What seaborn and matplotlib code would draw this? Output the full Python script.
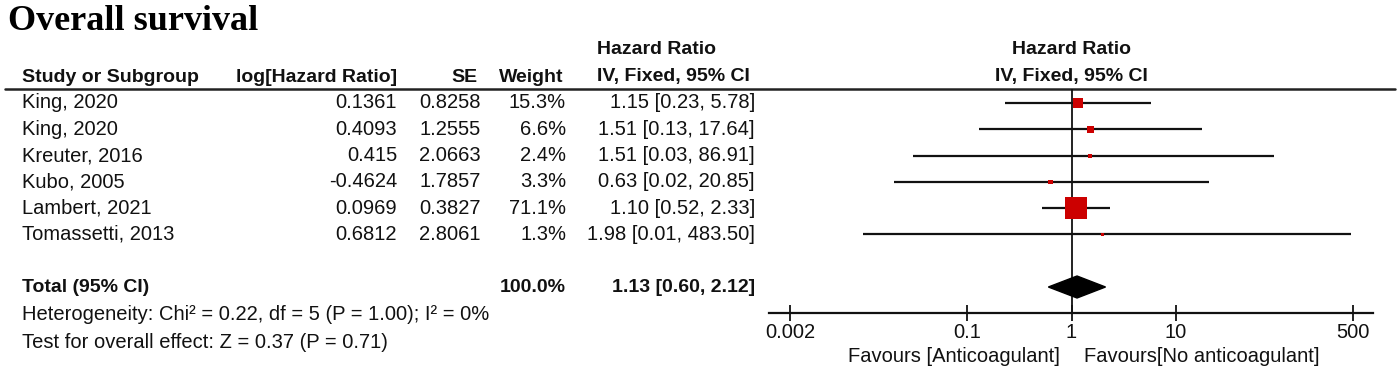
import numpy as np
import pandas as pd
import seaborn as sns
import matplotlib
matplotlib.use("Agg")
from matplotlib import pyplot as plt

# data
studies = ["King, 2020", "King, 2020", "Kreuter, 2016", "Kubo, 2005", "Lambert, 2021", "Tomassetti, 2013"]
log_hr = ["0.1361", "0.4093", "0.415", "-0.4624", "0.0969", "0.6812"]
se = ["0.8258", "1.2555", "2.0663", "1.7857", "0.3827", "2.8061"]
weight = [15.3, 6.6, 2.4, 3.3, 71.1, 1.3]
hr = [1.15, 1.51, 1.51, 0.63, 1.10, 1.98]
ci_lo = [0.23, 0.13, 0.03, 0.02, 0.52, 0.01]
ci_hi = [5.78, 17.64, 86.91, 20.85, 2.33, 483.50]
total_hr, total_lo, total_hi = 1.13, 0.60, 2.12
total_weight = 100.0
heterogeneity = "Heterogeneity: Chi² = 0.22, df = 5 (P = 1.00); I² = 0%"
overall = "Test for overall effect: Z = 0.37 (P = 0.71)"
ticks = [0.002, 0.1, 1, 10, 500]
tick_labels = ["0.002", "0.1", "1", "10", "500"]

df = pd.DataFrame({"study": studies, "weight": weight, "hr": hr, "lo": ci_lo, "hi": ci_hi})

sns.set_theme(style="white")
plt.rcParams["font.family"] = ["Liberation Sans", "DejaVu Sans"]

W, H = 1399, 371
fig = plt.figure(figsize=(W / 100, H / 100), dpi=100)

# background axes in pixel units for the table part
bg = fig.add_axes([0, 0, 1, 1])
bg.set_xlim(0, W)
bg.set_ylim(H, 0)
bg.axis("off")

row0, dy = 103, 26.3
df["y"] = row0 + dy * np.arange(len(df))
y_total = 287
fs = 14.5   # regular text
fb = 14.0   # bold text
ink = "#111111"

bg.text(8, 21, "Overall survival", family="Liberation Serif", weight="bold",
        fontsize=26, va="center", ha="left", color="black")

# header
bg.text(597, 50, "Hazard Ratio", ha="left", va="center", fontsize=fb, weight="bold", color=ink)
bg.text(1071, 50, "Hazard Ratio", ha="center", va="center", fontsize=fb, weight="bold", color=ink)
hy = 77
bg.text(22, hy, "Study or Subgroup", ha="left", va="center", fontsize=fb, weight="bold", color=ink)
bg.text(397, hy, "log[Hazard Ratio]", ha="right", va="center", fontsize=fb, weight="bold", color=ink)
bg.text(478, hy, "SE", ha="right", va="center", fontsize=fb, weight="bold", color=ink)
bg.text(563, hy, "Weight", ha="right", va="center", fontsize=fb, weight="bold", color=ink)
bg.text(597, hy, "IV, Fixed, 95% CI", ha="left", va="center", fontsize=fb, weight="bold", color=ink)
bg.text(1071, hy, "IV, Fixed, 95% CI", ha="center", va="center", fontsize=fb, weight="bold", color=ink)
bg.plot([5, 1395], [89, 89], color="#222222", lw=1.8)

for i, r in df.iterrows():
    bg.text(22, r.y, r.study, ha="left", va="center", fontsize=fs, color=ink)
    bg.text(397, r.y, log_hr[i], ha="right", va="center", fontsize=fs, color=ink)
    bg.text(481, r.y, se[i], ha="right", va="center", fontsize=fs, color=ink)
    bg.text(566, r.y, f"{r.weight:.1f}%", ha="right", va="center", fontsize=fs, color=ink)
    bg.text(755, r.y, f"{r.hr:.2f} [{r.lo:.2f}, {r.hi:.2f}]", ha="right", va="center", fontsize=fs, color=ink)

bg.text(22, y_total, "Total (95% CI)", ha="left", va="center", fontsize=fb, weight="bold", color=ink)
bg.text(566, y_total, f"{total_weight:.1f}%", ha="right", va="center", fontsize=fb, weight="bold", color=ink)
bg.text(755, y_total, f"{total_hr:.2f} [{total_lo:.2f}, {total_hi:.2f}]", ha="right", va="center",
        fontsize=fb, weight="bold", color=ink)
bg.text(22, 315, heterogeneity, ha="left", va="center", fontsize=fs, color=ink)
bg.text(22, 343, overall, ha="left", va="center", fontsize=fs, color=ink)
bg.text(1060, 357, "Favours [Anticoagulant]", ha="right", va="center", fontsize=fs, color=ink)
bg.text(1084, 357, "Favours[No anticoagulant]", ha="left", va="center", fontsize=fs, color=ink)

# forest axes: pixel 769..1373 horizontally, 89..313 vertically
x0, x1, ytop, ybot = 769, 1373, 89, 313
ax = fig.add_axes([x0 / W, 1 - ybot / H, (x1 - x0) / W, (ybot - ytop) / H])
ax.set_xscale("log")
per_dec, x_one = 104.3, 1071.5
ax.set_xlim(10 ** ((x0 - x_one) / per_dec), 10 ** ((x1 - x_one) / per_dec))
ax.set_ylim(ybot, ytop)
ax.patch.set_alpha(0)

ax.axvline(1, color="#111111", lw=1.3, zorder=1)
ax.hlines(df["y"], df["lo"], df["hi"], color="#111111", lw=1.6, zorder=2)
k = 3.53
sns.scatterplot(data=df, x="hr", y="y", size="weight", sizes=(k * min(weight), k * max(weight)),
                marker="s", color="#CC0000", edgecolor="none", legend=False, ax=ax, zorder=3)

# pooled estimate diamond
half = 11
ax.fill([total_lo, total_hr, total_hi, total_hr], [y_total, y_total - half, y_total, y_total + half],
        color="black", zorder=3)

for s in ["top", "left", "right"]:
    ax.spines[s].set_visible(False)
ax.spines["bottom"].set_color("#111111")
ax.spines["bottom"].set_linewidth(1.6)
ax.set_xticks(ticks)
ax.set_xticklabels(tick_labels)
ax.minorticks_off()
ax.tick_params(axis="x", direction="inout", length=12, width=1.3, color="#111111",
               labelsize=fs, labelcolor=ink, pad=1, bottom=True)
ax.set_yticks([])
ax.set_xlabel("")
ax.set_ylabel("")

fig.savefig("out.png", dpi=100)
